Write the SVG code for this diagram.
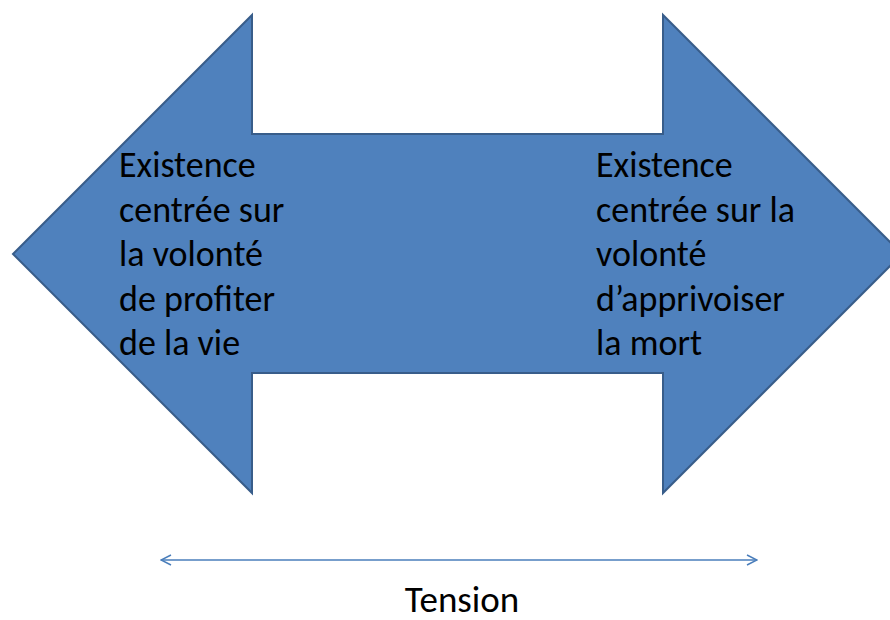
<svg xmlns="http://www.w3.org/2000/svg" width="890" height="620" viewBox="0 0 890 620">
  <style>
    .shape { fill: #4F81BD; stroke: #385D8A; stroke-width: 2; stroke-linejoin: miter; }
    .label { font-family: "Carlito", "Open Sans", "Liberation Sans", sans-serif; font-size: 36px; fill: #000000; }
    .link { fill: none; stroke: #4A7EBB; stroke-width: 1.5; }
  </style>
  <defs>
    <marker id="chevron" viewBox="0 0 12 12" refX="11" refY="6" markerWidth="12" markerHeight="12" markerUnits="userSpaceOnUse" orient="auto-start-reverse">
      <path d="M1,1 L11,6 L1,11" fill="none" stroke="#4A7EBB" stroke-width="1.5"/>
    </marker>
  </defs>
  <rect width="890" height="620" fill="#FFFFFF"/>

  <!-- Double-headed block arrow -->
  <g id="double-arrow">
    <path class="shape" d="M13,254 L252,15 L252,134 L663,134 L663,15 L902,254 L663,493 L663,373 L252,373 L252,493 Z"/>
  </g>

  <g id="left-pole">
    <text class="label" x="119">
      <tspan x="119" y="177">Existence</tspan>
      <tspan x="119" y="221.5">centrée sur</tspan>
      <tspan x="119" y="266">la volonté</tspan>
      <tspan x="119" y="310.5">de profiter</tspan>
      <tspan x="119" y="355">de la vie</tspan>
    </text>
  </g>

  <g id="right-pole">
    <text class="label" x="596">
      <tspan x="596" y="177">Existence</tspan>
      <tspan x="596" y="221.5">centrée sur la</tspan>
      <tspan x="596" y="266">volonté</tspan>
      <tspan x="596" y="310.5">d’apprivoiser</tspan>
      <tspan x="596" y="355">la mort</tspan>
    </text>
  </g>

  <!-- Tension connector -->
  <g id="connectors">
    <line class="link" x1="161" y1="560" x2="757" y2="560" marker-start="url(#chevron)" marker-end="url(#chevron)"/>
  </g>

  <g id="tension">
    <text class="label" x="462" y="612" text-anchor="middle" style="font-size:37px">Tension</text>
  </g>
</svg>
